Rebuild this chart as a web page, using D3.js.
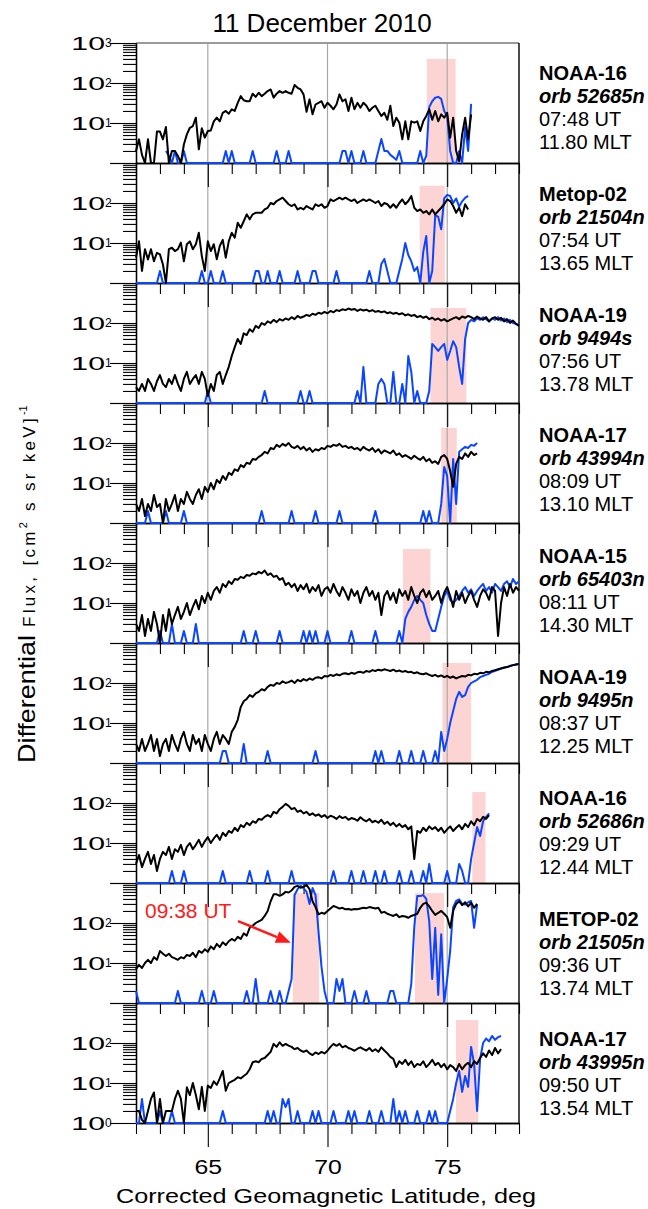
<!DOCTYPE html>
<html>
<head>
<meta charset="utf-8">
<script src="https://cdn.jsdelivr.net/npm/d3@7"></script>
<style>
  body { margin: 0; background: #fff; }
  svg { display: block; }
</style>
</head>
<body>
<svg id="chart" width="648" height="1209"></svg>
<script>
// ---- axis ranges and labels ----
const latMin = 62, latMax = 78;
const latMinorTicks = [62, 63, 64, 66, 67, 68, 69, 71, 72, 73, 74, 76, 77, 78];
const latMajorTicks = [65, 70, 75];
const fluxMajorTicks = [1, 10, 100, 1000];
const fluxMinorTicks = [2, 3, 4, 5, 6, 7, 8, 9, 20, 30, 40, 50, 60, 70, 80, 90, 200, 300, 400, 500, 600, 700, 800, 900];

// ---- pass annotations (one entry per panel, top to bottom) ----
const satellites = ["NOAA-16", "Metop-02", "NOAA-19", "NOAA-17", "NOAA-15", "NOAA-19", "NOAA-16", "METOP-02", "NOAA-17"];
const orbits = ["orb 52685n", "orb 21504n", "orb 9494s", "orb 43994n", "orb 65403n", "orb 9495n", "orb 52686n", "orb 21505n", "orb 43995n"];
const utTimes = ["07:48 UT", "07:54 UT", "07:56 UT", "08:09 UT", "08:11 UT", "08:37 UT", "09:29 UT", "09:36 UT", "09:50 UT"];
const mltTimes = ["11.80 MLT", "13.65 MLT", "13.78 MLT", "13.10 MLT", "14.30 MLT", "12.25 MLT", "12.44 MLT", "13.74 MLT", "13.54 MLT"];
const fluxLabelTicks = [[10, 100, 1000], [10, 100], [10, 100], [10, 100], [10, 100], [10, 100], [10, 100], [10, 100], [1, 10, 100]];

// ---- sampling of each pass (first latitude, latitude step) ----
const sampleStart = [62, 62, 62, 62, 62, 62, 62, 62, 62];
const sampleStep = [0.125, 0.125, 0.125, 0.125, 0.125, 0.125, 0.125, 0.125, 0.125];

// ---- shaded intervals: panel, latitude span, upper flux ----
const bandPanel = [0, 1, 2, 3, 4, 5, 6, 7, 7, 8];
const bandFrom = [74.15, 73.85, 74.3, 74.75, 73.15, 74.8, 76.05, 68.55, 73.65, 75.37];
const bandTo = [75.35, 74.9, 75.8, 75.4, 74.3, 76.0, 76.6, 69.65, 74.87, 76.3];
const bandTop = [400, 270, 237, 237, 224, 316, 188, 560, 560, 376];

// ---- flux series (black = low-energy channel, blue = high-energy channel) ----
const p1Black = [2,3.9,1.6,1,3.9,1,1,6.1,6.1,3.9,
  7.9,1,2,2,1.5,1,2.9,5.2,7.6,8.4,
  13.6,2.2,7.4,4.3,6.3,6.5,11,13.6,11,18,
  20,17,22,20,32,47,37,35,35,54,
  45,57,47,54,63,69,43,54,63,57,
  63,57,54,89,76,69,52,19,39,16.5,
  29,32,35,24,32,27,22,29,52,35,
  39,20,43,22,32,24,32,27,20,24,
  27,20,15,18,12,27,8.4,13.6,10.2,3.9,
  11,3.9,11,10.2,11,6.3,11,15,22,12,
  20,11,16.5,13.6,18,4.3,13.6,2,1.1,5.2,
  13.6,3.9,16.5];
const p1Blue = [null,null,null,null,null,null,null,null,null,null,
  2,1.5,1,2,1,1,2,1,1,1,
  1,1,1,1,1,1,1,1,1,1,
  2,1,2,1,1,1,1,1,1,2,
  1,1,1,1,1,1,1,2,1,1,
  1,2,1,1,1,1,1,1,1,1,
  1,1,1,1,1,1,1,1,1,2,
  2,1,2,1,1,1,2,1,1,1,
  1,2,4,2,2,1.6,1.4,1.2,2,1,
  1,1,1,1,1,2,1,1.5,25,35,
  43,45,40,20,15,2,1,1,2,1,
  8,2,30];

const p2Black = [4.3,11,2,7,3.9,7,3.5,5.7,5.2,2.9,
  1,7,7.6,6.3,7,10.2,3.5,9.3,11,7,
  9.3,18,4.7,2,11,6.3,9.3,3.9,8.4,12,
  4.3,11,18,13.6,32,24,35,52,39,52,
  57,57,57,69,76,100,93,112,123,136,
  112,93,84,93,69,76,69,84,76,69,
  93,84,93,76,84,123,112,123,136,123,
  136,123,112,123,100,112,123,112,123,112,
  100,112,84,100,93,76,93,76,100,123,
  93,112,150,76,63,69,57,63,52,69,
  52,63,76,93,123,112,84,57,76,47,
  93,69];
const p2Blue = [1,1,1,1,1,1,1,1,2,1,
  1,1,1,1,1,1,1,1,1,1,
  1,1,2,1,1,2,1,1,1,2,
  1,1,1,1,1,1,1,1,1,1,
  2,2,1,1,2,1,1,1,2,1,
  1,1,1,1,2,1,1,1,1,2,
  2,1,1,1,1,1,1,2,1,1,
  1,1,1,1,1,1,1,1,2,1,
  1,1,3,4,2,1,1,1,2,4,
  10,5,3.5,2,2.5,1,6,15,1,2,
  50,45,22,130,160,150,100,130,80,110,
  135,150];

const p3Black = [2.5,2,3,2,4,3,2,3.5,5,3,
  2.5,4,3,5,3,2,4,6,3,4,
  5,3,6,4,1.5,3,2,5,6,3,
  5,8,15,25,40,30,55,50,70,60,
  85,75,100,90,110,100,120,105,125,115,
  130,120,140,125,150,135,145,160,150,170,
  160,180,170,190,175,200,185,210,200,220,
  210,230,215,225,200,220,205,215,195,210,
  190,200,185,195,175,185,170,180,165,175,
  155,165,150,160,140,150,135,145,125,135,
  120,130,115,125,110,120,130,140,125,145,
  135,150,140,125,145,130,120,140,110,130,
  140,120,135,110,125,100,115,95,85];
const p3Blue = [1,1,1,1,1,1,1,1,1,1,
  1,1,1,1,1,1,1,1,1,1,
  1,1,1,1,2,1,1,1,1,1,
  1,1,1,1,1,1,1,1,1,1,
  1,1,1,2,1,1,1,1,1,1,
  1,1,1,1,1,2,1,1,2,1,
  1,1,1,1,1,1,1,1,1,1,
  1,1,1,1,2,1,8,1,1,1,
  1,3,4,3,1,1,6,1,1,3,
  1,15,6,1,2,1,1,1,2,30,
  25,20,25,30,12,20,35,25,8,3,
  40,100,120,110,130,120,140,125,110,130,
  120,140,115,130,105,120,100,95,90];

const p4Black = [3,2,4,1.5,3,2,5,2.5,3,1,
  4,2,3,5,2,4,3,6,4,3,
  5,7,4,8,6,10,7,12,10,15,
  12,18,16,22,20,28,25,32,30,40,
  38,45,50,60,55,75,70,90,80,95,
  85,100,80,75,85,70,80,65,75,60,
  70,65,75,70,85,80,90,85,95,80,
  85,75,80,70,75,65,80,70,65,75,
  60,70,55,65,60,55,65,50,55,45,
  50,45,40,48,42,38,45,35,40,32,
  35,30,45,50,40,20,8,30,45,40,
  55,45,60,50,55];
const p4Blue = [1,1,1,1,2,1,1,1,1,1,
  2,1,1,1,1,1,2,1,1,1,
  1,1,1,1,1,1,1,1,1,1,
  1,1,1,1,1,1,1,1,1,1,
  1,1,2,1,1,1,1,1,1,1,
  1,1,2,1,1,1,1,1,1,1,
  2,1,1,1,1,1,1,1,2,1,
  1,1,1,1,1,1,1,1,1,1,
  2,1,1,1,1,1,1,1,1,1,
  1,1,1,1,1,1,2,1,2,1,
  1,1,3,25,15,1,40,3,60,70,
  80,75,90,85,100];

const p5Black = [3,2,5,1.5,4,2,6,3,1,5,
  2,7,3,5,8,4,6,10,5,8,
  12,7,15,10,18,12,20,25,18,30,
  25,35,30,40,38,45,42,50,48,55,
  52,60,55,65,50,55,45,48,38,42,
  28,32,25,30,20,28,22,30,18,25,
  20,28,15,22,25,18,30,20,15,25,
  18,12,22,15,20,10,18,25,15,20,
  12,18,5,15,20,12,18,10,22,15,
  20,12,25,15,10,18,22,14,20,12,
  15,20,10,18,25,15,8,20,12,18,
  10,15,20,12,8,15,22,18,12,25,
  20,1.5,10,25,15,30,18,25,20];
const p5Blue = [1,1,1,1,1,1,1,1,2,1,
  1,1,3,1,1,1,2,1,1,1,
  3,1,1,1,1,1,1,1,1,1,
  1,1,1,1,1,1,2,1,1,1,
  2,1,1,1,1,1,1,1,2,1,
  1,1,1,1,1,1,2,1,2,1,
  2,1,1,1,2,1,1,1,1,1,
  1,1,2,1,1,1,1,1,1,1,
  2,1,1,1,1,1,1,1,2,1,
  4,6,8,12,15,12,10,5,3,2,
  2,4,8,15,20,12,10,12,15,20,
  25,18,22,15,20,25,30,20,25,18,
  30,25,20,30,35,25,40,30,35];

const p6Black = [3,2,4,2,3,5,2,4,1.5,3,
  4,2,5,3,2,4,6,3,2,5,
  3,4,2,5,3,2,4,6,3,5,
  4,3,6,8,12,25,35,40,50,45,
  55,60,70,65,80,90,85,100,95,110,
  100,105,115,100,120,110,125,115,130,120,
  135,140,130,150,145,160,150,165,155,170,
  175,165,180,170,185,190,180,200,190,210,
  200,215,205,220,210,200,215,195,205,190,
  200,185,190,175,185,170,165,175,160,150,
  160,145,155,140,150,135,145,130,140,150,
  145,160,155,170,165,180,175,190,185,200,
  210,220,230,240,250,265,280,290,300];
const p6Blue = [1,1,1,1,1,1,1,1,1,1,
  1,1,1,1,1,1,1,1,1,1,
  1,1,1,1,1,1,1,1,1,2,
  2,1,1,1,1,1,3,1,1,1,
  1,1,1,1,2,1,1,1,1,1,
  1,1,1,1,1,1,1,1,1,1,
  2,1,1,1,1,1,1,1,1,1,
  1,1,1,1,1,1,1,1,1,1,
  2,1,2,1,1,1,1,1,2,1,
  1,1,2,1,1,1,2,1,1,1,
  2,1,6,2,4,10,20,40,60,45,
  50,80,100,110,120,140,150,160,170,190,
  200,215,230,245,250,265,280,290,300];

const p7Black = [3,5,2.5,4,6,3,5,2,4,6,
  5,8,4,7,6,9,5,8,10,7,
  9,12,8,11,14,10,13,16,12,18,
  15,20,18,24,20,28,25,32,28,35,
  32,40,38,45,50,45,60,55,70,80,
  95,85,70,75,60,65,55,60,50,55,
  48,52,45,50,42,48,45,40,47,42,
  45,38,42,40,36,44,38,35,40,33,
  36,32,38,30,34,28,32,26,30,25,
  28,22,26,4,20,18,24,20,26,22,
  25,20,24,18,22,26,20,24,28,22,
  30,25,35,28,40,35,45,40,50];
const p7Blue = [1,1,1,1,1,1,1,1,1,1,
  1,1,2,1,1,1,2,1,1,1,
  1,1,1,1,1,1,1,1,1,2,
  1,1,1,1,1,1,1,1,2,1,
  1,1,1,1,2,1,1,1,1,1,
  1,1,2,1,1,1,1,1,1,1,
  1,1,1,1,1,1,2,1,1,1,
  1,1,2,1,1,1,2,1,1,1,
  2,1,1,2,1,1,1,1,2,1,
  1,1,2,1,1,1,2,1,3,1,
  1,1,1,1,2,1,1,1,3,2,
  1,1,4,10,25,15,35,45,55];

const p8Black = [7,9,7.5,10,12,10,14,12,20,17,
  15,17,14,13,12,14,13,16,15,18,
  14,20,18,22,19,26,22,30,25,33,
  28,35,40,36,45,40,55,48,76,85,
  100,110,120,150,200,350,520,520,480,520,
  600,580,650,800,850,760,800,900,700,350,
  250,165,180,170,200,230,265,250,230,240,
  220,225,215,225,220,230,240,235,250,240,
  230,240,180,190,170,160,150,165,140,150,
  145,135,150,160,170,240,300,320,260,200,
  160,180,200,170,140,76,200,300,350,280,
  330,260,320,240,300];
const p8Blue = [2,1,1,1,1,1,1,1,1,1,
  1,1,1,1,2,1,1,1,1,1,
  1,1,2,1,1,1,2,1,1,1,
  1,1,1,1,1,1,1,2,1,1,
  4,1,1,1,1,2,1,1,2,1,
  1,2,4,500,700,850,750,600,300,750,
  500,60,8,2,1,1,1,4,2,4,
  1,1,1,2,1,1,1,2,1,1,
  1,1,1,1,1,2,2,1,1,1,
  1,1,3,80,470,470,500,400,110,4,
  76,1.6,52,1,4,20,250,355,390,300,
  290,330,355,76,290];

const p9Black = [2,2,1.2,1,2,4,5.8,1,4,1,
  2,2,2,4,6.4,4,1,7.8,5,10,
  5,2.2,8,2,8.6,7.5,11,9,13,20,
  6.4,10,11,12,14,13,15,17,22,33,
  35,33,40,42,50,60,95,80,104,85,
  95,86,80,70,75,65,60,65,55,50,
  58,53,60,55,64,80,95,85,95,78,
  85,75,70,64,72,78,70,65,75,62,
  70,60,78,65,55,45,40,25,35,30,
  38,28,35,25,30,28,35,25,30,38,
  28,32,25,30,22,28,25,20,30,22,
  28,32,25,35,30,42,55,45,65,50,
  75,55,70];
const p9Blue = [1,1,4,1,1,1,1,1,2,1,
  1,1,2,1,1,1,1,1,1,1,
  1,1,1,1,1,1,1,1,1,2,
  1,1,1,1,1,1,1,1,1,1,
  1,1,1,1,2,1,2,1,1,4,
  2.5,4,1,1,2,1,1,1,1,2,
  1,2,1,1,1,1,2,1,1,1,
  1,2,1,2,1,1,1,1,2,1,
  1,1,2,1,1,1,4,1,2,1,
  2,1,1,1,2,1,1,1,2,1,
  2,1,1,1,1,2,4,10,20,6,
  15,8,80,30,2,40,100,130,110,150,
  120,140,150];

const blackSeries = [p1Black, p2Black, p3Black, p4Black, p5Black, p6Black, p7Black, p8Black, p9Black];
const blueSeries = [p1Blue, p2Blue, p3Blue, p4Blue, p5Blue, p6Blue, p7Blue, p8Blue, p9Blue];

// arrow annotation in the METOP-02 09:36 UT panel
const noteText = "09:38 UT";
const notePanel = 7;
const noteLat = [66.26, 68.47];
const noteFlux = [112, 32];

// ---- layout ----
const svg = d3.select("#chart");
const plotLeft = 136, plotRight = 519, plotTop = 43, panelH = 120, nPanels = 9;
const plotBottom = plotTop + nPanels * panelH;
const sans = "'Liberation Sans', Arial, sans-serif";
const blueColor = "#0a46ff";
const labelX = 539, labelMaxW = 107;

const x = d3.scaleLinear().domain([latMin, latMax]).range([plotLeft, plotRight]);
const yScales = d3.range(nPanels).map(k =>
  d3.scaleLog().domain([1, 1000]).range([plotTop + (k + 1) * panelH, plotTop + k * panelH]));

const gBands = svg.append("g");
const gGrid = svg.append("g");
const gAxes = svg.append("g");
const gLines = svg.append("g");
const gText = svg.append("g");

// shaded intervals
bandPanel.forEach((k, i) => {
  const y = yScales[k];
  gBands.append("rect")
    .attr("x", x(bandFrom[i]))
    .attr("width", x(bandTo[i]) - x(bandFrom[i]))
    .attr("y", y(bandTop[i]))
    .attr("height", y(1) - y(bandTop[i]))
    .attr("fill", "#fdd4d4");
});

// vertical grid lines through all panels
gGrid.selectAll("line.grid").data(latMajorTicks).join("line")
  .attr("x1", d => x(d)).attr("x2", d => x(d))
  .attr("y1", plotTop).attr("y2", plotBottom)
  .attr("stroke", "#a8a8a8").attr("stroke-width", 1.2);
// top frame line
gGrid.append("line")
  .attr("x1", plotLeft).attr("x2", plotRight)
  .attr("y1", plotTop).attr("y2", plotTop)
  .attr("stroke", "#9a9a9a").attr("stroke-width", 2);

// axes for every panel
yScales.forEach((y, k) => {
  const g = gAxes.append("g");
  g.append("g").attr("transform", `translate(${plotLeft},0)`)
    .call(d3.axisLeft(y).tickValues(fluxMinorTicks).tickSize(13).tickSizeOuter(0).tickFormat(""));
  g.append("g").attr("transform", `translate(${plotLeft},0)`)
    .call(d3.axisLeft(y).tickValues(fluxMajorTicks).tickSize(26).tickSizeOuter(0).tickFormat(""));
  const yb = y(1);
  g.append("g").attr("transform", `translate(0,${yb})`)
    .call(d3.axisBottom(x).tickValues(latMinorTicks).tickSize(11).tickSizeOuter(0).tickFormat(""));
  const major = g.append("g").attr("transform", `translate(0,${yb})`)
    .call(d3.axisBottom(x).tickValues(latMajorTicks).tickSize(24).tickSizeOuter(0)
      .tickFormat(k === nPanels - 1 ? d3.format("d") : ""));
  major.selectAll("text")
    .attr("y", 0).attr("dy", 0)
    .attr("transform", "translate(0,51) scale(1.18,1)")
    .attr("font-family", sans).attr("font-size", 21).attr("fill", "#000");

  // decade labels 10^n
  fluxLabelTicks[k].forEach(v => {
    const ty = y(v);
    const exp = Math.round(Math.log10(v));
    gText.append("text")
      .attr("transform", `translate(105,${ty + 7}) scale(1.68,1)`)
      .attr("text-anchor", "end")
      .attr("font-family", sans).attr("font-size", 18)
      .text("10");
    gText.append("text")
      .attr("x", 105).attr("y", ty + 4)
      .attr("font-family", sans).attr("font-size", 12)
      .text(String(exp));
  });
});
gAxes.selectAll(".domain").attr("stroke", "#000").attr("stroke-width", 1.3);
gAxes.selectAll(".tick line").attr("stroke", "#000").attr("stroke-width", 1.1);

// right frame line
gGrid.append("line")
  .attr("x1", plotRight).attr("x2", plotRight)
  .attr("y1", plotTop).attr("y2", plotBottom)
  .attr("stroke", "#000").attr("stroke-width", 1.4);

// flux traces
yScales.forEach((y, k) => {
  const toPoints = vals => vals.map((v, i) => ({ lat: sampleStart[k] + i * sampleStep[k], v }));
  const line = d3.line()
    .defined(d => d.v != null)
    .x(d => x(d.lat))
    .y(d => y(d.v));
  gLines.append("path")
    .datum(toPoints(blueSeries[k]))
    .attr("d", line)
    .attr("fill", "none").attr("stroke", blueColor)
    .attr("stroke-width", 2).attr("stroke-linejoin", "round");
  gLines.append("path")
    .datum(toPoints(blackSeries[k]))
    .attr("d", line)
    .attr("fill", "none").attr("stroke", "#000")
    .attr("stroke-width", 2).attr("stroke-linejoin", "round");

  // pass description on the right (blocks sit slightly lower further down the stack)
  const cy = (y(1) + y(1000)) / 2;
  const firstBase = cy - 23 + k * 0.8;
  const lines = [
    { t: satellites[k], w: "bold", s: "normal" },
    { t: orbits[k], w: "bold", s: "italic" },
    { t: utTimes[k], w: "normal", s: "normal" },
    { t: mltTimes[k], w: "normal", s: "normal" }
  ];
  lines.forEach((l, j) => {
    const t = gText.append("text")
      .attr("x", labelX).attr("y", firstBase + j * 23)
      .attr("font-family", sans).attr("font-size", 20)
      .attr("font-weight", l.w).attr("font-style", l.s)
      .text(l.t);
    // keep long lines inside the figure
    const w = t.node().getComputedTextLength();
    if (w > labelMaxW) t.attr("textLength", labelMaxW).attr("lengthAdjust", "spacingAndGlyphs");
  });
});

// arrow annotation
{
  const y = yScales[notePanel];
  const x0 = x(noteLat[0]), y0 = y(noteFlux[0]);
  const x1 = x(noteLat[1]), y1 = y(noteFlux[1]);
  const ang = Math.atan2(y1 - y0, x1 - x0);
  const headL = 15, headW = 6;
  const bx = x1 - headL * Math.cos(ang), by = y1 - headL * Math.sin(ang);
  gText.append("line")
    .attr("x1", x0).attr("y1", y0).attr("x2", bx).attr("y2", by)
    .attr("stroke", "#ff1a1a").attr("stroke-width", 2.5);
  gText.append("path")
    .attr("d", `M${x1},${y1}L${bx - headW * Math.sin(ang)},${by + headW * Math.cos(ang)}L${bx + headW * Math.sin(ang)},${by - headW * Math.cos(ang)}Z`)
    .attr("fill", "#ff1a1a");
  gText.append("text")
    .attr("x", 145).attr("y", y(noteFlux[0]) - 3)
    .attr("font-family", sans).attr("font-size", 21).attr("fill", "#ff1a1a")
    .text(noteText);
}

// titles
gText.append("text")
  .attr("x", 322).attr("y", 32)
  .attr("text-anchor", "middle")
  .attr("font-family", sans).attr("font-size", 26)
  .text("11 December 2010");

gText.append("text")
  .attr("x", 326).attr("y", 1203)
  .attr("text-anchor", "middle")
  .attr("font-family", sans).attr("font-size", 21)
  .attr("textLength", 420).attr("lengthAdjust", "spacingAndGlyphs")
  .text("Corrected Geomagnetic Latitude, deg");

const yTitle = gText.append("text")
  .attr("transform", "translate(35,763) rotate(-90)")
  .attr("font-family", sans).attr("fill", "#000");
yTitle.append("tspan").attr("font-size", 24)
  .attr("textLength", 128).attr("lengthAdjust", "spacingAndGlyphs").text("Differential");
yTitle.append("tspan").attr("font-size", 17).attr("letter-spacing", 3.3).text(" Flux, [cm");
yTitle.append("tspan").attr("font-size", 11).attr("dy", -8).attr("letter-spacing", 3.3).text("2");
yTitle.append("tspan").attr("font-size", 17).attr("dy", 8).attr("letter-spacing", 3.3).text(" s sr keV]");
yTitle.append("tspan").attr("font-size", 11).attr("dy", -8).text("-1");
</script>
</body>
</html>
